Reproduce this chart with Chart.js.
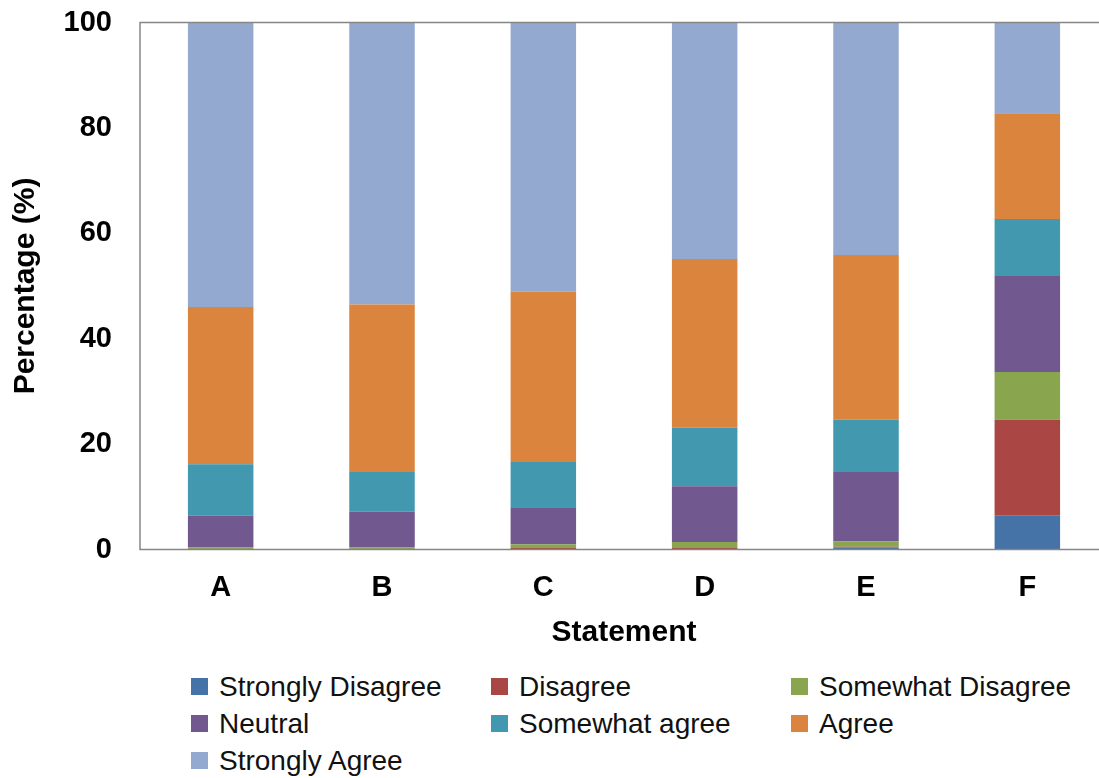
<!DOCTYPE html>
<html>
<head>
<meta charset="utf-8">
<script src="https://cdn.jsdelivr.net/npm/chart.js@4/dist/chart.umd.min.js"></script>
<style>
  html, body { margin: 0; padding: 0; background: #fff; overflow: hidden; width: 1099px; height: 778px; }
  #wrap { position: absolute; left: 0; top: 0; width: 1112px; height: 660px; }
  #legend { position: absolute; left: 191px; top: 668px; width: 908px; display: grid;
    grid-template-columns: 300px 300px 300px; grid-auto-rows: 37px; font-family: "Liberation Sans", Arial, sans-serif;
    font-size: 28px; color: #111; }
  .item { display: flex; align-items: center; height: 37px; white-space: nowrap; }
  .box { width: 17px; height: 17px; margin-right: 11px; flex: none; }
</style>
</head>
<body>
<div id="wrap"><canvas id="c"></canvas></div>
<div id="legend"></div>
<script>
const categories = ['A', 'B', 'C', 'D', 'E', 'F'];
const seriesNames = ['Strongly Disagree', 'Disagree', 'Somewhat Disagree', 'Neutral', 'Somewhat agree', 'Agree', 'Strongly Agree'];
const stronglyDisagree = [0, 0, 0, 0, 0.4, 6.4];
const disagree = [0.1, 0.1, 0.4, 0.3, 0.1, 18.2];
const somewhatDisagree = [0.3, 0.3, 0.6, 1.1, 1.0, 9.1];
const neutral = [6.0, 6.8, 7.0, 10.6, 13.2, 18.2];
const somewhatAgree = [9.8, 7.5, 8.6, 11.1, 9.9, 10.8];
const agree = [29.8, 31.8, 32.3, 32.0, 31.3, 20.1];
const stronglyAgree = [54.0, 53.5, 51.1, 44.9, 44.1, 17.2];
const yTicks = [0, 20, 40, 60, 80, 100];
const colors = ['#4572A7', '#AA4643', '#89A54E', '#71588F', '#4198AF', '#DB843D', '#93A9CF'];

const seriesValues = [stronglyDisagree, disagree, somewhatDisagree, neutral, somewhatAgree, agree, stronglyAgree];
const FONT = '"Liberation Sans", Arial, sans-serif';

const frame = {
  id: 'frame',
  afterDatasetsDraw(chart) {
    const a = chart.chartArea, ctx = chart.ctx;
    ctx.save();
    ctx.strokeStyle = '#868686';
    ctx.lineWidth = 1.5;
    ctx.beginPath();
    ctx.moveTo(a.right, a.top);
    ctx.lineTo(a.left, a.top);
    ctx.lineTo(a.left, a.bottom);
    ctx.lineTo(a.right, a.bottom);
    ctx.stroke();
    ctx.restore();
  }
};

const chart = new Chart(document.getElementById('c'), {
  type: 'bar',
  data: {
    labels: categories,
    datasets: seriesNames.map((n, i) => ({
      label: n,
      data: seriesValues[i],
      backgroundColor: colors[i],
      borderWidth: 0,
      categoryPercentage: 1.0,
      barPercentage: 0.406
    }))
  },
  options: {
    responsive: true,
    maintainAspectRatio: false,
    animation: false,
    events: [],
    layout: { padding: { left: 8, right: 4, top: 22.5, bottom: 0 } },
    plugins: {
      legend: { display: false },
      tooltip: { enabled: false },
      title: { display: false }
    },
    scales: {
      x: {
        stacked: true,
        grid: { display: false, drawTicks: false },
        border: { display: false },
        ticks: { color: '#000', font: { family: FONT, size: 29, weight: 'bold' }, padding: 21 },
        title: { display: true, text: 'Statement', color: '#000', font: { family: FONT, size: 30, weight: 'bold' }, padding: { top: 0, bottom: 9 } },
        afterFit(scale) {
          scale.height = 110.5;
          scale.paddingLeft = 0; scale.paddingRight = 0; scale.paddingTop = 0; scale.paddingBottom = 0;
        }
      },
      y: {
        stacked: true,
        min: 0, max: 100,
        afterBuildTicks(scale) { scale.ticks = yTicks.map(v => ({ value: v })); },
        grid: { display: false, drawTicks: false },
        border: { display: false },
        ticks: { color: '#000', font: { family: FONT, size: 29, weight: 'bold' }, padding: 28 },
        title: { display: true, text: 'Percentage (%)', color: '#000', font: { family: FONT, size: 30, weight: 'bold' }, padding: { top: 0, bottom: 0 } },
        afterFit(scale) {
          scale.width = 132;
          scale.paddingTop = 0; scale.paddingBottom = 0; scale.paddingLeft = 0; scale.paddingRight = 0;
        }
      }
    }
  },
  plugins: [frame]
});

const leg = document.getElementById('legend');
chart.data.datasets.forEach(ds => {
  const it = document.createElement('div');
  it.className = 'item';
  const b = document.createElement('span');
  b.className = 'box';
  b.style.background = ds.backgroundColor;
  const t = document.createElement('span');
  t.textContent = ds.label;
  it.appendChild(b); it.appendChild(t);
  leg.appendChild(it);
});
</script>
</body>
</html>
